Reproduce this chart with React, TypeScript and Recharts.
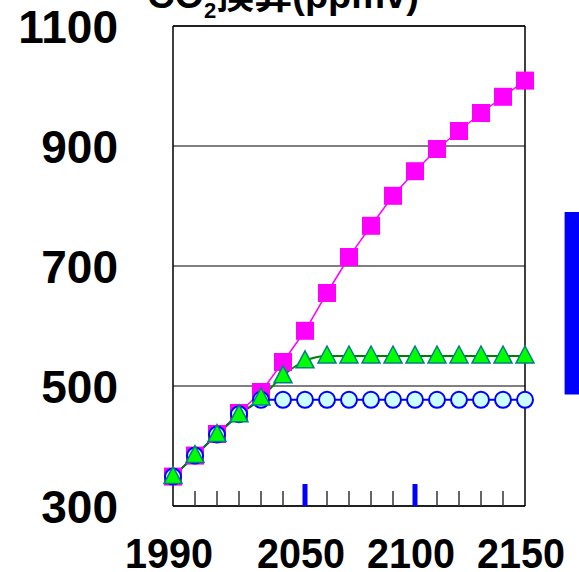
import { CartesianGrid, Line, LineChart, ReferenceArea, ReferenceLine, XAxis, YAxis } from 'recharts';

const years = [1990, 2000, 2010, 2020, 2030, 2040, 2050, 2060, 2070, 2080, 2090, 2100, 2110, 2120, 2130, 2140, 2150];
const squareSeries = [349, 384, 420, 455, 490, 540, 592, 655, 715, 767, 817, 858, 895, 925, 955, 982, 1009];
const triangleSeries = [349, 384, 419, 452, 480, 517, 542, 550, 550, 550, 550, 550, 550, 550, 550, 550, 550];
const circleSeries = [349, 384, 419, 453, 477, 477, 477, 477, 477, 477, 477, 477, 477, 477, 477, 477, 477];

const yTicks = [300, 500, 700, 900, 1100];
const xLabels = [1990, 2050, 2100, 2150];
const blueTicks = [2050, 2100];
// range bar drawn to the right of the plot
const rangeYears = [2168, 2180];
const rangeValues = [486, 790];

const data = years.map((year, i) => ({
  year,
  square: squareSeries[i],
  triangle: triangleSeries[i],
  circle: circleSeries[i],
}));

const font = '"Liberation Sans", Arial, "Noto Sans CJK JP", sans-serif';

function SquareDot(props: any) {
  const { cx, cy, index } = props;
  if (cx == null || cy == null) return null;
  return <rect key={`s${index}`} x={cx - 9} y={cy - 9} width={18} height={18} fill="#ff00ff" />;
}

function TriangleDot(props: any) {
  const { cx, cy, index } = props;
  if (cx == null || cy == null) return null;
  const pts = `${cx},${cy - 10} ${cx - 9},${cy + 7} ${cx + 9},${cy + 7}`;
  return <polygon key={`t${index}`} points={pts} fill="#00ff00" stroke="#008080" strokeWidth={1.5} />;
}

function CircleDot(props: any) {
  const { cx, cy, index } = props;
  if (cx == null || cy == null) return null;
  return <circle key={`c${index}`} cx={cx} cy={cy} r={8} fill="#ccffff" stroke="#0000ff" strokeWidth={2} />;
}

function XTick(props: any) {
  const { x, y, payload } = props;
  const v = payload.value;
  const edge = v === years[0] || v === years[years.length - 1];
  return (
    <g>
      {!edge && !blueTicks.includes(v) && (
        <line x1={x} x2={x} y1={y} y2={y - 15} stroke="#333" strokeWidth={1.5} />
      )}
      {blueTicks.includes(v) && <rect x={x - 2.5} y={y - 22} width={5} height={22} fill="#0000ff" />}
      {xLabels.includes(v) && (
        <text
          x={x - 4}
          y={y + 62}
          textAnchor="middle"
          fontFamily={font}
          fontWeight="bold"
          fontSize={42}
          textLength={88}
          lengthAdjust="spacingAndGlyphs"
          fill="#000"
        >
          {v}
        </text>
      )}
    </g>
  );
}

function YTick(props: any) {
  const { y, payload } = props;
  return (
    <text x={118} y={y + 17} textAnchor="end" fontFamily={font} fontWeight="bold" fontSize={46} fill="#000">
      {payload.value}
    </text>
  );
}

export default function App() {
  return (
    <div style={{ position: 'absolute', left: 0, top: 0, width: 579, height: 572, background: '#fff' }}>
      <LineChart width={579} height={572} data={data} margin={{ top: 26, right: 54, bottom: 0, left: 0 }}>
        <CartesianGrid vertical={false} stroke="#000" strokeWidth={1} />
        <XAxis
          dataKey="year"
          type="number"
          domain={[1990, 2150]}
          ticks={years}
          interval={0}
          height={66}
          tickLine={false}
          tickSize={0}
          tickMargin={0}
          tick={<XTick />}
          axisLine={{ stroke: '#000', strokeWidth: 1.5 }}
        />
        <YAxis
          type="number"
          domain={[300, 1100]}
          ticks={yTicks}
          interval={0}
          width={173}
          tickLine={false}
          tickSize={0}
          tickMargin={0}
          tick={<YTick />}
          axisLine={{ stroke: '#000', strokeWidth: 1.5 }}
        />
        <ReferenceLine y={1100} stroke="#000" strokeWidth={1.5} />
        <ReferenceLine x={2150} stroke="#000" strokeWidth={1.5} />
        <ReferenceArea
          x1={rangeYears[0]}
          x2={rangeYears[1]}
          y1={rangeValues[0]}
          y2={rangeValues[1]}
          fill="#0000ff"
          fillOpacity={1}
          stroke="none"
          ifOverflow="visible"
        />
        <Line
          dataKey="square"
          type="linear"
          stroke="#ff00ff"
          strokeWidth={1.5}
          dot={<SquareDot />}
          isAnimationActive={false}
        />
        <Line
          dataKey="circle"
          type="linear"
          stroke="#0000ff"
          strokeWidth={2}
          dot={<CircleDot />}
          isAnimationActive={false}
        />
        <Line
          dataKey="triangle"
          type="monotone"
          stroke="#008000"
          strokeWidth={1.8}
          dot={<TriangleDot />}
          isAnimationActive={false}
        />
        <text x={147} y={8} fontFamily={font} fontWeight="bold" fontSize={38} fill="#000">
          CO
          <tspan fontSize={22} dy={10}>
            2
          </tspan>
          <tspan dy={-10}>換算(ppmv)</tspan>
        </text>
      </LineChart>
    </div>
  );
}
